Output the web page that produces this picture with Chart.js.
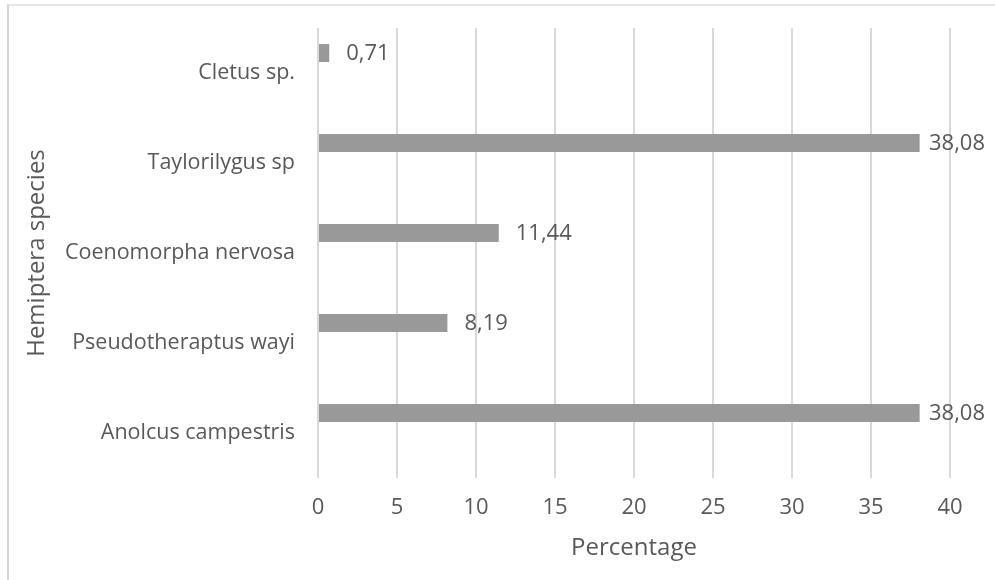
<!DOCTYPE html>
<html>
<head>
<meta charset="utf-8">
<script src="https://cdn.jsdelivr.net/npm/chart.js@4/dist/chart.umd.min.js"></script>
<style>
  html, body { margin: 0; padding: 0; background: #ffffff; }
  #frame {
    position: absolute; left: 7px; top: 4px; width: 988px; height: 576px;
    border-left: 2px solid #d4d4d4; border-top: 2px solid #e6e6e6;
    box-sizing: border-box;
  }
  #wrap { position: absolute; left: 0; top: 0; width: 995px; height: 580px; }
</style>
</head>
<body>
<div id="frame"></div>
<div id="wrap"><canvas id="chart" width="995" height="580"></canvas></div>
<script>
// Share of each Hemiptera species (%), listed top to bottom
const species = [
  'Cletus sp.',
  'Taylorilygus sp',
  'Coenomorpha nervosa',
  'Pseudotheraptus wayi',
  'Anolcus campestris'
];
const percentages = [0.71, 38.08, 11.44, 8.19, 38.08];
// second (empty) series slot that shares each category band
const emptySeries = [null, null, null, null, null];
const xTicks = [0, 5, 10, 15, 20, 25, 30, 35, 40];

const FONT = '"Open Sans", "DejaVu Sans", sans-serif';
const TEXT = '#595959';

// Writes each bar's value beside its end, with a decimal comma
const valueLabels = {
  id: 'valueLabels',
  afterDatasetsDraw(chart) {
    const ctx = chart.ctx;
    const meta = chart.getDatasetMeta(0);
    ctx.save();
    ctx.font = '22px ' + FONT;
    ctx.fillStyle = TEXT;
    ctx.textBaseline = 'middle';
    ctx.textAlign = 'left';
    meta.data.forEach((bar, i) => {
      const v = percentages[i];
      const txt = v.toFixed(2).replace('.', ',');
      const w = ctx.measureText(txt).width;
      let x = bar.x + 17;
      if (x + w > chart.width - 10) x = chart.width - 10 - w;
      ctx.fillText(txt, x, bar.y + 1);
    });
    ctx.restore();
  }
};

new Chart(document.getElementById('chart'), {
  type: 'bar',
  data: {
    labels: species,
    datasets: [
      {
        label: 'Percentage',
        data: percentages,
        backgroundColor: '#999999',
        borderWidth: 0,
        categoryPercentage: 0.8889,
        barPercentage: 0.45
      },
      {
        label: '',
        data: emptySeries,
        backgroundColor: '#999999',
        categoryPercentage: 0.8889,
        barPercentage: 0.45
      }
    ]
  },
  options: {
    indexAxis: 'y',
    responsive: false,
    animation: false,
    devicePixelRatio: 1,
    layout: { padding: { left: 12, right: 45, top: 28, bottom: 0 } },
    plugins: {
      legend: { display: false },
      tooltip: { enabled: false }
    },
    scales: {
      x: {
        type: 'linear',
        min: 0,
        max: 40,
        afterBuildTicks(scale) { scale.ticks = xTicks.map(v => ({ value: v })); },
        afterFit(scale) {
          scale.height = 102;
          scale.paddingLeft = 0;
          scale.paddingRight = 0;
        },
        grid: { color: '#d9d9d9', lineWidth: 2, drawTicks: false },
        border: { display: false },
        ticks: {
          color: TEXT,
          font: { family: FONT, size: 22 },
          padding: 17,
          maxRotation: 0
        },
        title: {
          display: true,
          text: 'Percentage',
          color: TEXT,
          font: { family: FONT, size: 24 },
          padding: { top: 0, bottom: 17 }
        }
      },
      y: {
        afterFit(scale) {
          scale.width = 306;
          scale.paddingTop = 0;
          scale.paddingBottom = 0;
        },
        grid: { display: false, drawTicks: false },
        border: { display: false },
        ticks: {
          color: TEXT,
          font: { family: FONT, size: 21.5 },
          padding: 23
        },
        title: {
          display: true,
          text: 'Hemiptera species',
          color: TEXT,
          font: { family: FONT, size: 24 },
          padding: { top: 11, bottom: 0 }
        }
      }
    }
  },
  plugins: [valueLabels]
});
</script>
</body>
</html>
